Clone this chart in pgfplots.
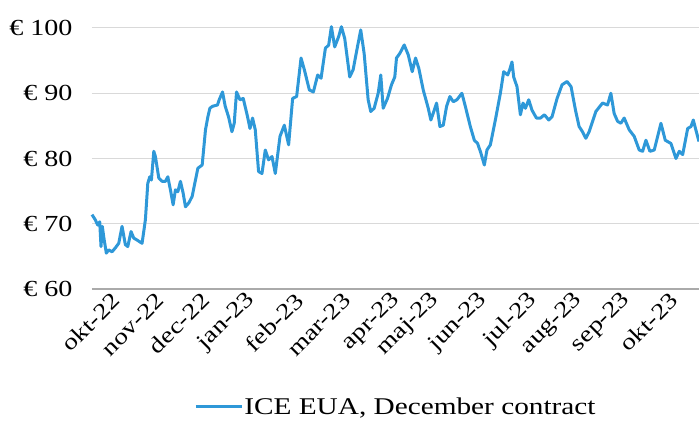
\documentclass[border=0pt]{standalone}
\usepackage{fontspec}
\setmainfont[FakeStretch=1.22]{Liberation Serif}
\usepackage{pgfplots}
\pgfplotsset{compat=1.18}
\definecolor{euablue}{RGB}{46,152,216}
\definecolor{gridgray}{RGB}{217,217,217}
\definecolor{basegray}{RGB}{170,170,170}

\begin{document}
\begin{tikzpicture}
\useasboundingbox (-92pt,-141pt) rectangle (607pt,289pt);
\begin{axis}[
    scale only axis,
    width=607pt, height=261pt,
    xmin=93, xmax=699,
    ymin=60, ymax=100,
    clip=false,
    axis lines*=left,
    y axis line style={draw=none},
    x axis line style={draw=basegray, line width=1.5pt},
    major tick length=0pt,
    ytick={60,70,80,90,100},
    yticklabels={€ 60,€ 70,€ 80,€ 90,€ 100},
    yticklabel style={font=\fontsize{23}{26}\selectfont, xshift=-16pt},
    xtick={111,155,200,246,294,341,391,430,478,528,573,621,668},
    xticklabels={okt-22,nov-22,dec-22,jan-23,feb-23,mar-23,apr-23,maj-23,jun-23,jul-23,aug-23,sep-23,okt-23},
    xticklabel style={font=\fontsize{22.5}{26}\selectfont, xshift=7pt, yshift=-7pt, rotate=45, anchor=east, inner sep=1pt},
    ymajorgrids,
    grid style={draw=gridgray, line width=1pt},
    legend style={at={(0.5,-0.452)}, anchor=center, draw=none, font=\fontsize{24}{27}\selectfont,
        nodes={inner sep=1pt}},
    legend image code/.code={\draw[#1] (0pt,0pt) -- (46pt,0pt);},
]
\addplot[color=euablue, line width=3pt, line join=round] coordinates {
(93,71.4) (96.3,70.6) (98.7,69.8) (100.7,70.3) (102,66.5) (103.3,69.6) (104.7,68.0)
(107.3,65.5) (109.7,66.0) (113,65.7) (116.3,66.3) (119.7,67.0) (123,69.6) (126.3,66.8)
(128.7,66.5) (132,68.8) (134.7,67.8) (138,67.5) (143,67.0) (146.3,70.6) (148.7,76.2)
(150.7,77.2) (152.3,76.7) (154.7,81.1) (156.3,80.3) (159.7,77.0) (163,76.5) (166.3,76.5)
(168.7,77.2) (171.3,75.2) (174,72.9) (176.3,75.2) (178.7,74.9) (181.3,76.5) (184,74.7)
(186.3,72.6) (189.7,73.2) (193,74.2) (196.3,76.7) (198.7,78.5) (203,79.0) (206.3,84.4)
(208.7,86.4) (210.7,87.7) (213.3,88.0) (218.3,88.2) (220,89.0) (223.3,90.2) (226,88.0)
(229.3,86.4) (232.7,84.1) (235,85.4) (237.3,90.2) (240.7,89.0) (244,89.2) (248.3,86.4)
(250.7,84.6) (253.3,86.2) (256,84.4) (259.3,78.0) (262.7,77.7) (266,81.3) (269.3,79.8)
(272.7,80.3) (276,77.7) (280.7,83.4) (285,85.1) (289.3,82.1) (293.3,89.2) (297.3,89.5)
(301.7,95.4) (305,93.6) (310,90.5) (314,90.2) (318.3,92.8) (321.7,92.3) (326,96.9)
(329.3,97.4) (332,100.2) (335.3,97.1) (339.3,98.7) (342,100.2) (345.3,98.4) (350.3,92.5)
(353.7,93.6) (358,97.1) (361.3,99.7) (364.7,96.1) (368.7,89.0) (371.3,87.2) (374.7,87.7)
(378.7,90.0) (381.3,92.8) (383.7,87.7) (388,89.2) (392,91.3) (395.3,92.5) (397,95.4)
(400.3,96.1) (404.7,97.4) (408.7,95.9) (412.7,93.3) (416,95.4) (419.3,93.8) (423.7,90.5)
(428.7,87.7) (431.3,85.9) (434.7,87.4) (437,88.5) (440.3,84.9) (443.7,85.1) (447,88.0)
(450.3,89.5) (453.7,88.7) (457.3,89.0) (462.3,90.0) (465.7,88.0) (470.7,84.9) (474.7,82.8)
(478,82.3) (481.3,80.8) (484.7,79.0) (487.3,81.3) (490.7,82.1) (495.7,85.9) (500.7,90.0)
(504,93.3) (508,92.8) (510,93.6) (512.3,94.8) (514,92.5) (517.3,91.0) (520.7,86.7)
(523.3,88.5) (525.7,87.7) (529,89.0) (532.3,87.4) (536.7,86.2) (540.7,86.2) (544.7,86.7)
(549,85.9) (552.3,86.4) (557.3,89.2) (562.3,91.3) (567.3,91.8) (571.3,91.0) (575.7,87.4)
(579.3,84.9) (582.7,84.1) (586,83.1) (589.3,84.1) (596,87.2) (602.7,88.5) (607.7,88.2)
(611,90.0) (614.3,86.9) (617.7,85.7) (621,85.4) (624.3,86.2) (629.3,84.4) (634.3,83.4)
(639.3,81.3) (642.7,81.1) (646,82.8) (650,81.1) (654.3,81.3) (661,85.4) (665.3,82.8)
(671,82.3) (676,80.0) (679.3,81.1) (682.7,80.6) (687.7,84.6) (691,84.9) (693.3,85.9)
(696.7,83.9) (699,82.6)
};
\addlegendentry{ICE EUA, December contract}
\end{axis}
\end{tikzpicture}
\end{document}
